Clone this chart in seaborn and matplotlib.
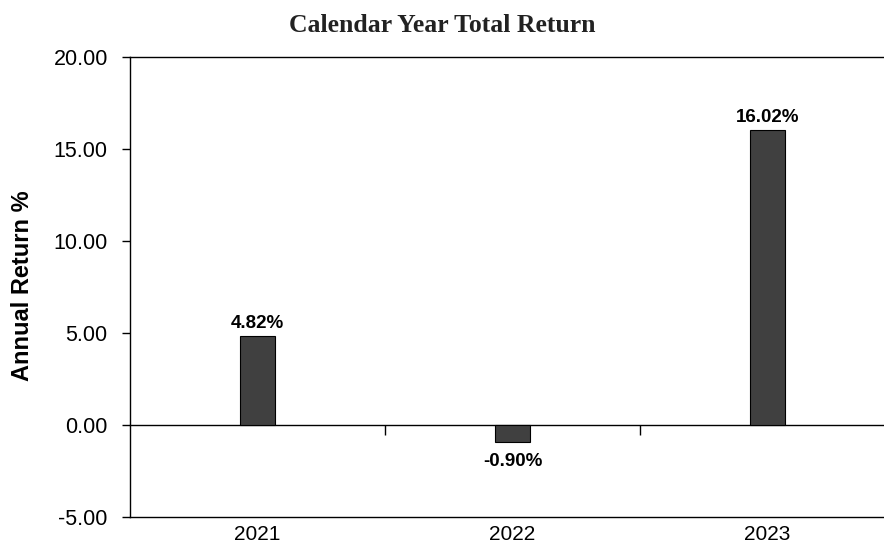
import numpy as np
import pandas as pd
import matplotlib
matplotlib.use("Agg")
import matplotlib.pyplot as plt
import seaborn as sns

# dati
anni = ["2021", "2022", "2023"]
rendimenti = [4.82, -0.90, 16.02]
y_ticks = [-5, 0, 5, 10, 15, 20]

df = pd.DataFrame({"anno": anni, "rendimento": rendimenti})

sns.set_theme(style="white")
plt.rcParams["font.family"] = ["Liberation Sans", "DejaVu Sans"]
plt.rcParams["text.color"] = "black"
plt.rcParams["axes.labelcolor"] = "black"
plt.rcParams["xtick.color"] = "black"
plt.rcParams["ytick.color"] = "black"

fig = plt.figure(figsize=(8.84, 5.5), dpi=100)
ax = fig.add_axes([130 / 884, 1 - 517 / 550, (895 - 130) / 884, (517 - 57) / 550])

sns.barplot(data=df, x="anno", y="rendimento", color="#404040", width=0.137,
            edgecolor="black", linewidth=0.8, saturation=1, ax=ax)

ax.set_xlim(-0.5, len(anni) - 0.5)
ax.set_ylim(y_ticks[0], y_ticks[-1])
ax.set_yticks(y_ticks)
ax.set_yticklabels([f"{v:.2f}" for v in y_ticks], fontsize=15.5)
ax.tick_params(axis="y", direction="out", length=6, width=1, pad=10, left=True)
ax.tick_params(axis="x", length=0, labelsize=15, pad=6)
ax.set_xlabel("")
ax.set_ylabel("")

for lato in ["left", "top", "bottom"]:
    ax.spines[lato].set_color("black")
    ax.spines[lato].set_linewidth(1)
ax.spines["right"].set_visible(False)

# asse dello zero con tacche tra le categorie
sec = ax.secondary_xaxis(0, transform=ax.transData)
sec.set_xticks(np.arange(len(anni) - 1) + 0.5)
sec.set_xticklabels([])
sec.tick_params(direction="out", length=7, width=1)
sec.spines["bottom"].set_color("black")
sec.spines["bottom"].set_linewidth(1)

# etichette valori
for i, v in enumerate(rendimenti):
    if v >= 0:
        ax.annotate(f"{v:.2f}%", (i, v), xytext=(0, 3), textcoords="offset points",
                    ha="center", va="bottom", fontsize=13.5, fontweight="bold")
    else:
        ax.annotate(f"{v:.2f}%", (i, v), xytext=(0, -8), textcoords="offset points",
                    ha="center", va="top", fontsize=13.5, fontweight="bold")

fig.text(23 / 884, 1 - 286 / 550, "Annual Return %", rotation=90, ha="center", va="center",
         fontsize=17, fontweight="bold")

fig.text(0.5, 1 - 26 / 550, "Calendar Year Total Return", ha="center", va="center",
         fontsize=18.5, fontweight="bold", family=["Liberation Serif", "DejaVu Serif"],
         color="#222222")

fig.savefig("out.png", dpi=100)
